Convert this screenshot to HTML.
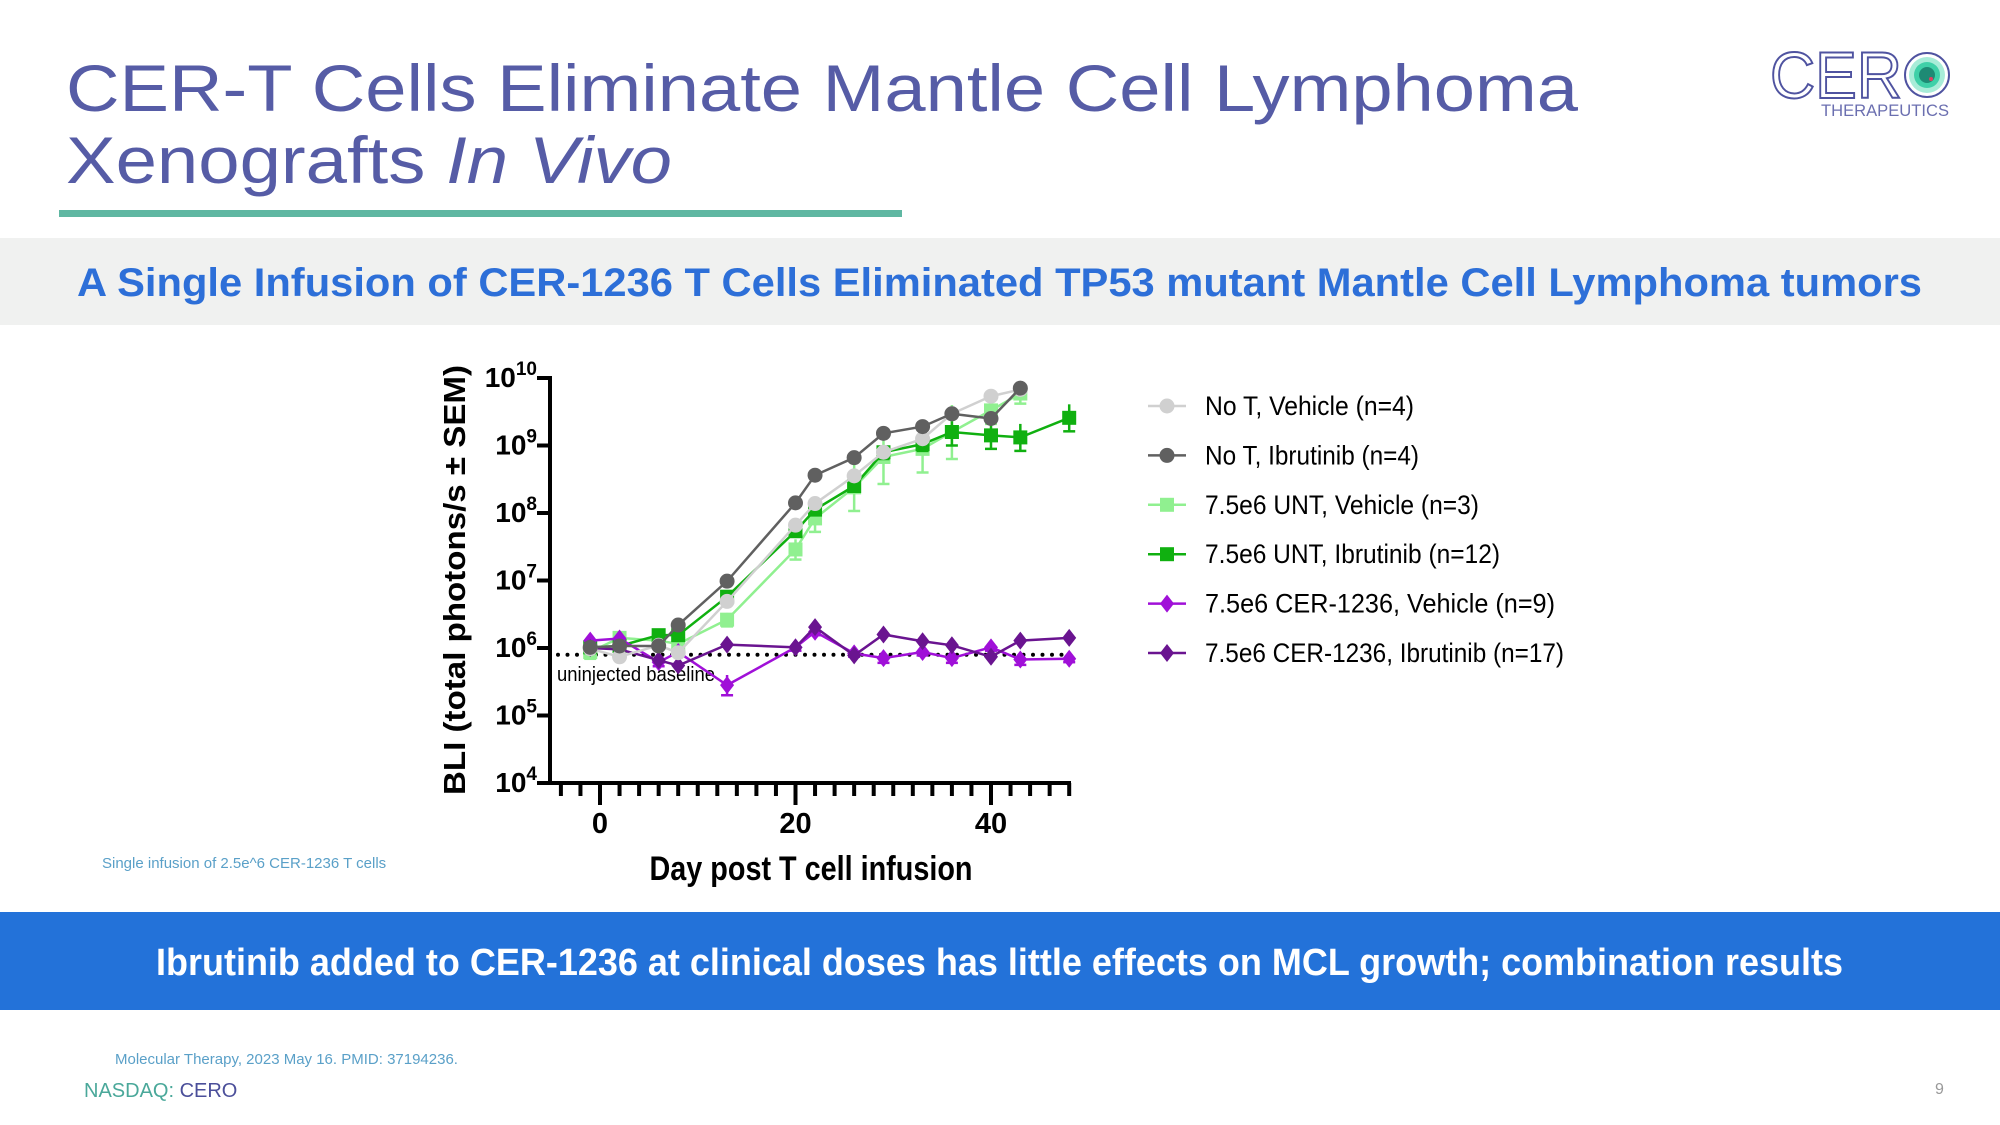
<!DOCTYPE html>
<html><head><meta charset="utf-8"><style>
html,body{margin:0;padding:0;background:#fff;}
svg{display:block;font-family:"Liberation Sans",sans-serif;}
</style></head><body>
<svg id="slide" width="2000" height="1125" viewBox="0 0 2000 1125">
  <text x="66" y="111" font-size="66" fill="#565ca6" textLength="1512" lengthAdjust="spacingAndGlyphs">CER-T Cells Eliminate Mantle Cell Lymphoma</text>
  <text x="66" y="183" font-size="66" fill="#565ca6" textLength="606" lengthAdjust="spacingAndGlyphs">Xenografts <tspan font-style="italic">In Vivo</tspan></text>
  <rect x="59" y="210" width="843" height="7" fill="#5fb7a2"/>
  <g>
    <text x="1770" y="98" font-size="66" font-weight="normal" fill="none" stroke="#4f53a0" stroke-width="2" textLength="132" lengthAdjust="spacingAndGlyphs">CER</text>
    <circle cx="1927" cy="75" r="22" fill="#fff" stroke="#4f53a0" stroke-width="2"/>
    <circle cx="1927" cy="75" r="18" fill="#a8ecd8"/>
    <circle cx="1927" cy="75" r="13" fill="#3fd0a8"/>
    <circle cx="1927" cy="75" r="8" fill="#1e8a74"/>
    <circle cx="1931" cy="79" r="2" fill="#e04060"/>
    <text x="1821" y="116" font-size="17" fill="#6b6fb0" textLength="128" lengthAdjust="spacingAndGlyphs">THERAPEUTICS</text>
  </g>
  <rect x="0" y="238" width="2000" height="87" fill="#f0f1f0"/>
  <text x="77" y="296" font-size="40" font-weight="bold" fill="#2d6fd8" textLength="1845" lengthAdjust="spacingAndGlyphs">A Single Infusion of CER-1236 T Cells Eliminated TP53 mutant Mantle Cell Lymphoma tumors</text>

  <g id="chart"></g>

  <text x="102" y="868" font-size="15" fill="#5aa0c8">Single infusion of 2.5e^6 CER-1236 T cells</text>
  <rect x="0" y="912" width="2000" height="98" fill="#2372d9"/>
  <text x="156" y="975" font-size="38" font-weight="bold" fill="#fff" textLength="1687" lengthAdjust="spacingAndGlyphs">Ibrutinib added to CER-1236 at clinical doses has little effects on MCL growth; combination results</text>
  <text x="115" y="1064" font-size="15" fill="#5aa0c8">Molecular Therapy, 2023 May 16. PMID: 37194236.</text>
  <text x="84" y="1097" font-size="20"><tspan fill="#4aa89a">NASDAQ: </tspan><tspan fill="#4b4f9a">CERO</tspan></text>
  <text x="1935" y="1094" font-size="16" fill="#999">9</text>
</svg>
<script>
const days = [-1, 2, 6, 8, 13, 20, 22, 26, 29, 33, 36, 40, 43, 48];
const noTVehicle = [5.99, 5.87, 6.04, 5.93, 6.69, 7.82, 8.14, 8.55, 8.90, 9.10, 9.47, 9.73, 9.83, null];
const noTIbrutinib = [6.01, 6.03, 6.03, 6.34, 6.99, 8.15, 8.56, 8.82, 9.18, 9.28, 9.47, 9.40, 9.85, null];
const untVehicle = [5.94, 6.15, 6.11, 6.06, 6.42, 7.46, 7.92, 8.38, 8.83, 8.95, 9.20, 9.52, 9.77, null];
const untIbrutinib = [6.01, 6.03, 6.19, 6.19, 6.76, 7.73, 8.05, 8.40, 8.90, 9.02, 9.20, 9.15, 9.12, 9.41];
const cerVehicle = [6.11, 6.14, 5.79, 5.94, 5.45, 6.01, 6.24, 5.92, 5.85, 5.94, 5.85, 6.01, 5.83, 5.84];
const cerIbrutinib = [6.00, 5.98, 5.82, 5.74, 6.05, 6.01, 6.31, 5.89, 6.20, 6.10, 6.04, 5.87, 6.11, 6.15];
const semUntVehicle = [0.1, 0.08, 0.1, 0.1, 0.1, 0.15, 0.2, 0.35, 0.4, 0.35, 0.4, 0.2, 0.15, 0];
const semUntIbrutinib = [0.05, 0.05, 0.08, 0.08, 0.05, 0.05, 0.08, 0.05, 0.1, 0.1, 0.2, 0.2, 0.2, 0.2];
const semCerVehicle = [0.05, 0.05, 0.06, 0.05, 0.15, 0.05, 0.05, 0.05, 0.07, 0.05, 0.07, 0.05, 0.08, 0.05];
const yTicks = [4, 5, 6, 7, 8, 9, 10];
const xMajor = [0, 20, 40];
const baselineLog = 5.9;
const legendLabels = ["No T, Vehicle (n=4)", "No T, Ibrutinib (n=4)", "7.5e6 UNT, Vehicle (n=3)", "7.5e6 UNT, Ibrutinib (n=12)", "7.5e6 CER-1236, Vehicle (n=9)", "7.5e6 CER-1236, Ibrutinib (n=17)"];

const NS = "http://www.w3.org/2000/svg";
const chart = document.getElementById("chart");
const X0 = 550, X1 = 1071, YB = 783, YT = 378;
const xS = d => 600 + (d - 0) * (195.5 / 20);
const yS = v => YB - (v - 4) * ((YB - YT) / 6);
function mk(tag, attrs, parent) {
  const e = document.createElementNS(NS, tag);
  for (const k in attrs) e.setAttribute(k, attrs[k]);
  (parent || chart).appendChild(e);
  return e;
}
const yAxis = mk("line", {x1: X0, y1: YT - 2, x2: X0, y2: YB + 2, stroke: "#000", "stroke-width": 4});


const xAxis = mk("line", {x1: X0 - 2, y1: YB, x2: X1, y2: YB, stroke: "#000", "stroke-width": 4});


yTicks.forEach(v => {
  const y = yS(v);
  mk("line", {x1: X0 - 13, y1: y, x2: X0, y2: y, stroke: "#000", "stroke-width": 4});
  const t = mk("text", {x: 537, y: y + 9, "text-anchor": "end", "font-size": 28, "font-weight": "bold"});
  
  
  t.innerHTML = '10<tspan dy="-12" font-size="19">' + v + '</tspan>';
});
for (let d = -4; d <= 48; d += 2) {
  const major = xMajor.includes(d);
  mk("line", {x1: xS(d), y1: YB, x2: xS(d), y2: YB + (major ? 22 : 13), stroke: "#000", "stroke-width": 4});
}
xMajor.forEach(d => {
  const t = mk("text", {x: xS(d), y: 833, "text-anchor": "middle", "font-size": 29, "font-weight": "bold"});
  
  
  t.textContent = d;
});
const xt = mk("text", {x: 811, y: 880, "text-anchor": "middle", "font-size": 34, "font-weight": "bold", textLength: 323, lengthAdjust: "spacingAndGlyphs"});


xt.textContent = "Day post T cell infusion";
const yt = mk("text", {x: 0, y: 0, "text-anchor": "middle", "font-size": 31, "font-weight": "bold", transform: "translate(465,580) rotate(-90)", textLength: 430, lengthAdjust: "spacingAndGlyphs"});


yt.textContent = "BLI (total photons/s \u00b1 SEM)";
const bl = mk("line", {x1: X0 + 8, y1: yS(baselineLog), x2: X1, y2: yS(baselineLog), stroke: "#000", "stroke-width": 4, "stroke-dasharray": "0 9.5", "stroke-linecap": "round"});


const blt = mk("text", {x: 557, y: 681, "font-size": 20, textLength: 158, lengthAdjust: "spacingAndGlyphs"});


blt.textContent = "uninjected baseline";

function marker(shape, x, y, color, parent) {
  if (shape === "circle") return mk("circle", {cx: x, cy: y, r: 7.5, fill: color}, parent);
  if (shape === "square") return mk("rect", {x: x - 7, y: y - 7, width: 14, height: 14, fill: color}, parent);
  return mk("polygon", {points: `${x},${y-9} ${x+7},${y} ${x},${y+9} ${x-7},${y}`, fill: color}, parent);
}
const series = [
  {name: "no-t-vehicle", vals: noTVehicle, color: "#d0d0d0", shape: "circle", sem: null},
  {name: "no-t-ibrutinib", vals: noTIbrutinib, color: "#606060", shape: "circle", sem: null},
  {name: "unt-vehicle", vals: untVehicle, color: "#90f090", shape: "square", sem: semUntVehicle},
  {name: "unt-ibrutinib", vals: untIbrutinib, color: "#10b010", shape: "square", sem: semUntIbrutinib},
  {name: "cer-vehicle", vals: cerVehicle, color: "#a010d8", shape: "diamond", sem: semCerVehicle},
  {name: "cer-ibrutinib", vals: cerIbrutinib, color: "#6a1490", shape: "diamond", sem: null}
];
const order = [2, 3, 4, 5, 0, 1];
order.forEach(i => {
  const s = series[i];
  const g = mk("g", {});
  
  
  const pts = [];
  days.forEach((d, j) => { if (s.vals[j] != null) pts.push([xS(d), yS(s.vals[j]), j]); });
  mk("polyline", {points: pts.map(p => p[0] + "," + p[1]).join(" "), fill: "none", stroke: s.color, "stroke-width": 2.5}, g);
  pts.forEach(p => {
    if (s.sem && s.sem[p[2]] > 0) {
      const e = s.sem[p[2]], v = s.vals[p[2]];
      const ya = yS(v - e), yb = yS(v + e);
      mk("line", {x1: p[0], y1: ya, x2: p[0], y2: yb, stroke: s.color, "stroke-width": 2.5}, g);
      mk("line", {x1: p[0] - 6, y1: ya, x2: p[0] + 6, y2: ya, stroke: s.color, "stroke-width": 2.5}, g);
    }
    const m = marker(s.shape, p[0], p[1], s.color, g);
    
    
  });
});
series.forEach((s, i) => {
  const y = 406 + i * 49.4;
  const g = mk("g", {});
  
  
  mk("line", {x1: 1148, y1: y, x2: 1186, y2: y, stroke: s.color, "stroke-width": 2.5}, g);
  marker(s.shape, 1167, y, s.color, g);
  const t = mk("text", {x: 1205, y: y + 9, "font-size": 27, textLength: [209, 214, 274, 295, 350, 359][i], lengthAdjust: "spacingAndGlyphs"}, g);
  t.textContent = legendLabels[i];
});
</script>
</body></html>
